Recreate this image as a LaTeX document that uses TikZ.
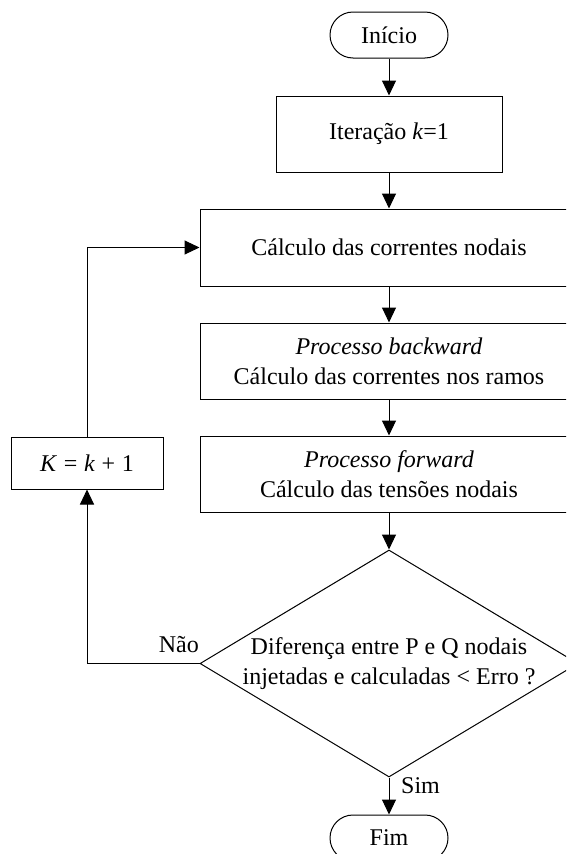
\documentclass[tikz,border=0pt]{standalone}
\usepackage{fontspec}
\setmainfont{Liberation Serif}
\usetikzlibrary{arrows.meta,shapes.geometric}
\begin{document}
\begin{tikzpicture}[x=1pt,y=-1pt,
  every node/.style={font=\fontsize{24}{30}\selectfont},
  box/.style={draw,line width=1pt,inner sep=0pt,align=center},
  term/.style={box,rounded corners=23pt,minimum width=118pt,minimum height=46pt},
  arr/.style={line width=1pt,-{Triangle[length=15pt,width=14pt]}},
  lbl/.style={inner sep=0pt}]
\useasboundingbox (0,0) rectangle (566,854);
\clip (0,0) rectangle (566,854);
\node[term] (ini) at (389,35) {Início};
\node[box,minimum width=226pt,minimum height=76pt] (it) at (389,134) {Iteração \textit{k}=1};
\node[box,minimum width=378pt,minimum height=77pt] (calc) at (389,247.5) {Cálculo das correntes nodais};
\node[box,minimum width=378pt,minimum height=76pt] (back) at (389,361) {\textit{Processo backward}\\Cálculo das correntes nos ramos};
\node[box,minimum width=378pt,minimum height=76pt] (fwd) at (389,474) {\textit{Processo forward}\\Cálculo das tensões nodais};
\node[draw,line width=1pt,diamond,inner sep=0pt,minimum width=378pt,minimum height=227pt] (dec) at (389,663.5) {};
\node[lbl,align=center] (dect) at (389,664) {Diferença entre P e Q nodais\\injetadas e calculadas < Erro ?};
\node[term] (fim) at (389,838) {Fim};
\node[box,minimum width=152pt,minimum height=52pt] (kb) at (87,463) {\textit{K}\;=\;\textit{k}\;+\;1};
\node[lbl,anchor=south east] (nao) at (199,653) {Não};
\node[lbl,anchor=west] (sim) at (401,786) {Sim};
\draw[arr] (ini) -- (it);
\draw[arr] (it) -- (calc);
\draw[arr] (calc) -- (back);
\draw[arr] (back) -- (fwd);
\draw[arr] (fwd) -- (dec);
\draw[arr] (dec.south) -- (fim);
\draw[arr] (dec.west) -| (kb.south);
\draw[arr] (kb.north) |- (calc.west);
\end{tikzpicture}
\end{document}
